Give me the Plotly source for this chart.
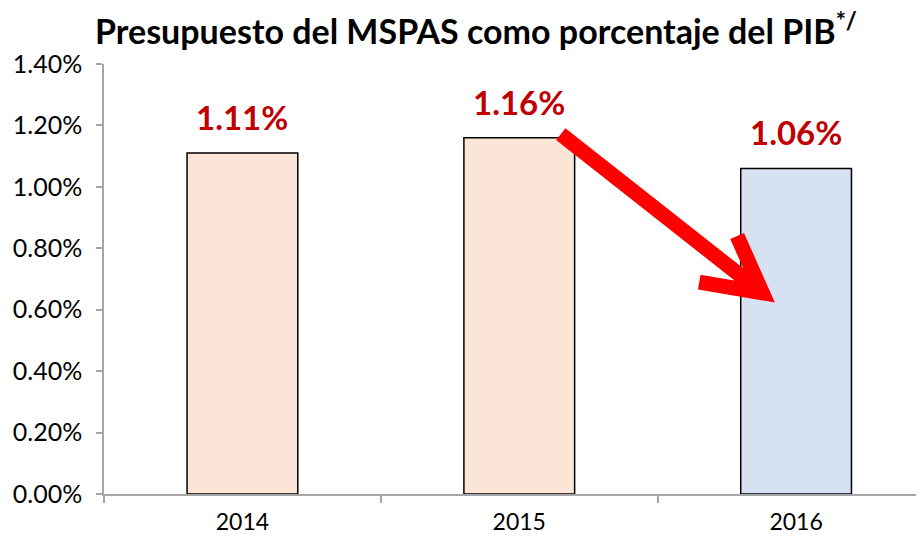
import plotly.graph_objects as go

years = ["2014", "2015", "2016"]
values = [0.0111, 0.0116, 0.0106]
bar_colors = ["#FBE5D6", "#FBE5D6", "#D6E1F1"]
y_ticks = [0, 0.002, 0.004, 0.006, 0.008, 0.010, 0.012, 0.014]

FONT = "Lato"

fig = go.Figure()
fig.add_trace(go.Bar(
    x=years, y=values, width=0.4,
    marker=dict(color=bar_colors, line=dict(color="#000000", width=1.5)),
    hoverinfo="skip",
))

for i, v in enumerate(values):
    fig.add_annotation(
        x=i, y=v, xref="x", yref="y", text=f"<b>{v*100:.2f}%</b>",
        showarrow=False, yanchor="bottom", yshift=14,
        font=dict(family=FONT, size=33, color="#C00000"),
    )

# Decorative red arrow (annotation, in data coordinates)
start = (1.15, 0.01172)
tip = (1.878, 0.00655)
barb1 = (1.787, 0.00840)
barb2 = (1.650, 0.00690)
path = (f"M {start[0]},{start[1]} L {tip[0]},{tip[1]} "
        f"M {barb1[0]},{barb1[1]} L {tip[0]},{tip[1]} L {barb2[0]},{barb2[1]}")
fig.add_shape(type="path", path=path, xref="x", yref="y",
              line=dict(color="#FF0000", width=15))

# page body has an 8px offset; compensate so the chart lands at the same spot
fig.update_layout(
    width=916, height=530,
    margin=dict(l=96, r=0, t=56, b=44),
    paper_bgcolor="white", plot_bgcolor="white",
    showlegend=False,
    title=dict(
        text="<b>Presupuesto del MSPAS como porcentaje del PIB<sup>*/</sup></b>",
        x=468 / 916, xref="container", xanchor="center",
        y=1 - 24 / 530, yref="container", yanchor="middle",
        font=dict(family=FONT, size=34, color="#000000"),
    ),
    font=dict(family=FONT, color="#000000"),
)
fig.update_yaxes(
    range=[0, 0.014], tickvals=y_ticks, tickformat=".2%",
    showgrid=False, zeroline=False,
    showline=True, linecolor="#A6A6A6", linewidth=1.5,
    ticks="outside", ticklen=6, tickcolor="#A6A6A6", tickwidth=1.5,
    ticklabelstandoff=9,
    tickfont=dict(family=FONT, size=25, color="#000000"),
)
fig.update_xaxes(
    type="category",
    range=[-0.5, 2.462], showgrid=False,
    showline=True, linecolor="#A6A6A6", linewidth=1.5,
    ticks="outside", ticklen=7, tickcolor="#A6A6A6", tickwidth=1.5,
    tickson="boundaries", ticklabelstandoff=7,
    tickfont=dict(family=FONT, size=23, color="#000000"),
)

fig.write_html("out.html")
